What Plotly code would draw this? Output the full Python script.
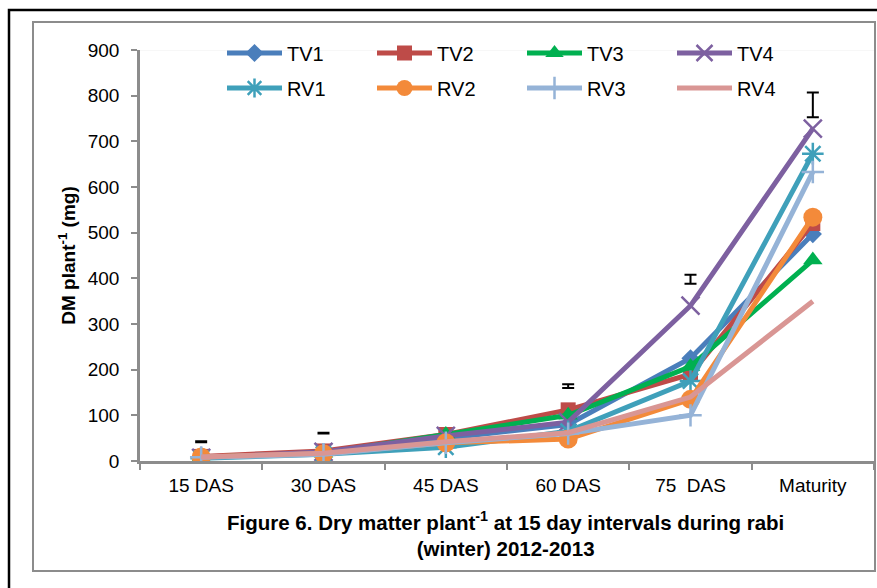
import plotly.graph_objects as go

categories = ["15 DAS", "30 DAS", "45 DAS", "60 DAS", "75\u00a0 DAS", "Maturity"]

series_names = ["TV1", "TV2", "TV3", "TV4", "RV1", "RV2", "RV3", "RV4"]
TV1 = [8, 18, 50, 80, 225, 497]
TV2 = [10, 22, 58, 112, 190, 520]
TV3 = [8, 17, 58, 100, 207, 440]
TV4 = [7, 20, 55, 85, 340, 728]
RV1 = [6, 15, 30, 65, 175, 673]
RV2 = [9, 16, 40, 48, 135, 534]
RV3 = [8, 15, 40, 60, 100, 633]
RV4 = [9, 17, 42, 62, 140, 350]
values = [TV1, TV2, TV3, TV4, RV1, RV2, RV3, RV4]

# floating error bars (centre, half-range)
err_center = [42, 61, None, 164, 398, 780]
err_half = [1, 1, None, 4, 10, 27]

colors = ["#4a7ebb", "#be4b48", "#00b050", "#7d60a0", "#3fa0ba", "#f38a3a", "#95b3d7", "#d99694"]
symbols = ["diamond", "square", "triangle-up", "x-thin", "asterisk", "circle", "cross-thin", None]
sizes = [14, 15, 17, 18, 18, 19, 16, 0]

fig = go.Figure()
for i, (name, vals) in enumerate(zip(series_names, values)):
    mk = dict(color=colors[i], size=sizes[i])
    if symbols[i] in ("x-thin", "asterisk", "cross-thin"):
        mk.update(symbol=symbols[i], line=dict(color=colors[i], width=2.5))
    elif symbols[i] is not None:
        mk.update(symbol=symbols[i])
    fig.add_trace(go.Scatter(
        x=categories, y=vals, name=name,
        mode="lines+markers" if symbols[i] else "lines",
        line=dict(color=colors[i], width=5),
        marker=mk,
        legend="legend" if i < 4 else "legend2",
    ))

ex = [c for c, e in zip(categories, err_center) if e is not None]
ey = [e for e in err_center if e is not None]
eh = [h for h in err_half if h is not None]
fig.add_trace(go.Scatter(
    x=ex, y=ey, mode="markers", marker=dict(size=1, color="rgba(0,0,0,0)"),
    error_y=dict(type="data", array=eh, color="black", thickness=2, width=6),
    showlegend=False, hoverinfo="skip",
))

# pixel helpers for frame shapes (plot area: x 140..874, y 50..461)
L, R, T, B = 140, 874, 50, 461
def px(x):
    return (x - L) / (R - L)
def py(y):
    return (B - y) / (B - T)

shapes = [
    dict(type="rect", xref="paper", yref="paper", x0=px(9), x1=px(890), y0=py(10), y1=py(600),
         line=dict(color="black", width=2.5), layer="below"),
    dict(type="rect", xref="paper", yref="paper", x0=px(33), x1=px(875), y0=py(22), y1=py(571),
         line=dict(color="#8c8c8c", width=2), layer="below"),
    dict(type="line", xref="paper", yref="y", x0=0, x1=1, y0=900, y1=900,
         line=dict(color="#f0f0f0", width=1), layer="below"),
]

legend_common = dict(orientation="h", entrywidth=80, entrywidthmode="pixels",
                     itemwidth=55, font=dict(family="Liberation Sans, Arial", size=20, color="black"),
                     bgcolor="rgba(0,0,0,0)", xanchor="left", yanchor="middle", traceorder="normal")

fig.update_layout(
    width=877, height=588,
    margin=dict(l=L, r=877 - R, t=T, b=588 - B),
    paper_bgcolor="white", plot_bgcolor="white",
    font=dict(family="Liberation Sans, Arial", size=19, color="black"),
    shapes=shapes,
    legend=dict(x=px(222), y=py(53), **legend_common),
    legend2=dict(x=px(222), y=py(88), **legend_common),
    xaxis=dict(
        type="category", range=[-0.5, 5.5], tickson="boundaries",
        ticks="outside", ticklen=6, tickwidth=2, tickcolor="#8c8c8c",
        showline=True, linecolor="#8c8c8c", linewidth=2.5, showgrid=False,
        tickfont=dict(size=19), ticklabelstandoff=5,
    ),
    yaxis=dict(
        range=[0, 900], tickvals=list(range(0, 901, 100)),
        ticks="outside", ticklen=6, tickwidth=2, tickcolor="#8c8c8c",
        showline=True, linecolor="#8c8c8c", linewidth=2.5, showgrid=False, zeroline=False,
        tickfont=dict(size=19), ticklabelstandoff=8,
        title=dict(text="<b>DM plant<sup>-1</sup> (mg)</b>", font=dict(size=19), standoff=8),
    ),
    annotations=[
        dict(text="<b>Figure 6. Dry matter plant<sup>-1</sup> at 15 day intervals during rabi</b><br><b>(winter) 2012-2013</b>",
             xref="paper", yref="paper", x=px(505), y=py(534), xanchor="center", yanchor="middle",
             showarrow=False, font=dict(size=20.5), align="center"),
    ],
)

fig.write_html("out.html", config={"displayModeBar": False},
               post_script="document.body.style.margin='0';")
